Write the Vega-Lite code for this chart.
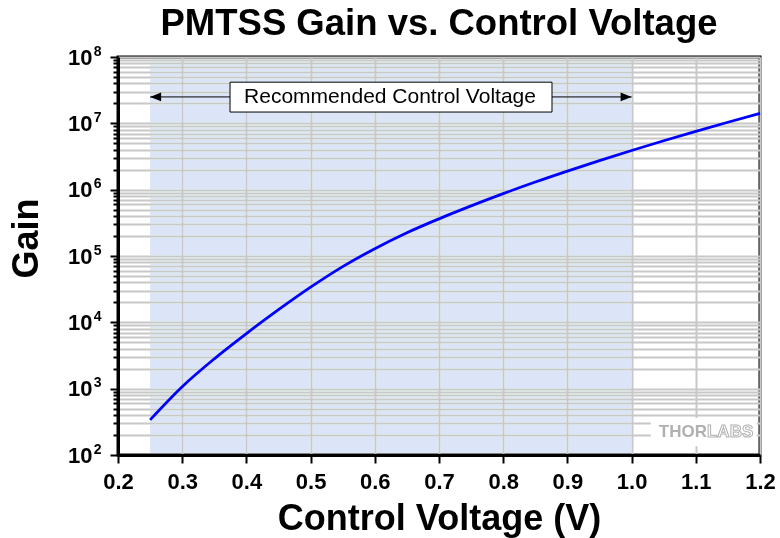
{
  "$schema": "https://vega.github.io/schema/vega-lite/v6.json",
  "autosize": {"type": "none"},
  "padding": {"left": 118, "top": 57, "right": 20, "bottom": 83},
  "width": 642,
  "height": 398,
  "title": {
    "text": "PMTSS Gain vs. Control Voltage",
    "font": "Liberation Sans",
    "fontSize": 36.5,
    "fontWeight": "bold",
    "color": "black",
    "anchor": "middle",
    "frame": "group",
    "baseline": "alphabetic",
    "offset": 11,
    "dy": 38
  },
  "datasets": {
    "gain": [
      {"Voltage": 0.25, "Gain": 339},
      {"Voltage": 0.3, "Gain": 1072},
      {"Voltage": 0.35, "Gain": 2818},
      {"Voltage": 0.4, "Gain": 6761},
      {"Voltage": 0.45, "Gain": 15490},
      {"Voltage": 0.5, "Gain": 33880},
      {"Voltage": 0.55, "Gain": 69180},
      {"Voltage": 0.6, "Gain": 128800},
      {"Voltage": 0.65, "Gain": 223900},
      {"Voltage": 0.7, "Gain": 363100},
      {"Voltage": 0.75, "Gain": 568900},
      {"Voltage": 0.8, "Gain": 871000},
      {"Voltage": 0.85, "Gain": 1303000},
      {"Voltage": 0.9, "Gain": 1905000},
      {"Voltage": 0.95, "Gain": 2742000},
      {"Voltage": 1.0, "Gain": 3890000},
      {"Voltage": 1.05, "Gain": 5458000},
      {"Voltage": 1.1, "Gain": 7568000},
      {"Voltage": 1.15, "Gain": 10380000},
      {"Voltage": 1.2, "Gain": 14090000}
    ],
    "band": [{"from": 0.25, "to": 1.0, "low": 100, "high": 100000000}],
    "note": [
      {"from": 0.25, "to": 1.0, "left": 0.3745, "right": 0.876, "mid": 0.6237,
       "level": 25000000, "bottom": 14800000, "top": 41700000,
       "label": "Recommended Control Voltage"}
    ],
    "arrows": [
      {"Voltage": 0.25, "Gain": 25000000, "dir": "left"},
      {"Voltage": 1.0, "Gain": 25000000, "dir": "right"}
    ],
    "logoBox": [{"from": 1.03, "to": 1.195, "low": 135, "high": 360}],
    "logoA": [{"Voltage": 1.1174, "Gain": 222, "t": "THOR"}],
    "logoB": [{"Voltage": 1.1174, "Gain": 222, "t": "LABS"}]
  },
  "resolve": {"axis": {"y": "independent"}},
  "layer": [
    {
      "data": {"name": "band"},
      "mark": {"type": "rect", "color": "#dce5f7", "blend": "darken"},
      "encoding": {
        "x": {
          "field": "from",
          "type": "quantitative",
          "scale": {"domain": [0.2, 1.2], "nice": false, "zero": false},
          "axis": {
            "title": "Control Voltage (V)",
            "values": [0.2, 0.25, 0.3, 0.35, 0.4, 0.45, 0.5, 0.55, 0.6, 0.65, 0.7, 0.75, 0.8, 0.85, 0.9, 0.95, 1.0, 1.05, 1.1, 1.15, 1.2],
            "labelExpr": "abs(datum.value*10 - round(datum.value*10)) < 0.001 ? format(datum.value, '.1f') : ''",
            "labelOverlap": false,
            "labelFlush": false,
            "labelPadding": 8,
            "tickSize": {"condition": {"test": "abs(datum.value*10 - round(datum.value*10)) < 0.001", "value": 8}, "value": 4},
            "titleY": 74,
            "titleBaseline": "alphabetic"
          }
        },
        "x2": {"field": "to"},
        "y": {
          "field": "low",
          "type": "quantitative",
          "scale": {"type": "log", "domain": [100, 100000000], "nice": false},
          "axis": {
            "orient": "left",
            "title": "Gain",
            "values": [100, 200, 300, 400, 500, 600, 700, 800, 900,
                       1000, 2000, 3000, 4000, 5000, 6000, 7000, 8000, 9000,
                       10000, 20000, 30000, 40000, 50000, 60000, 70000, 80000, 90000,
                       100000, 200000, 300000, 400000, 500000, 600000, 700000, 800000, 900000,
                       1000000, 2000000, 3000000, 4000000, 5000000, 6000000, 7000000, 8000000, 9000000,
                       10000000, 20000000, 30000000, 40000000, 50000000, 60000000, 70000000, 80000000, 90000000,
                       100000000],
            "labelExpr": "abs(log(datum.value)/LN10 - round(log(datum.value)/LN10)) < 0.001 ? '10' : ''",
            "labelOverlap": false,
            "labelFlush": false,
            "labelPadding": 18,
            "tickSize": {"condition": {"test": "abs(log(datum.value)/LN10 - round(log(datum.value)/LN10)) < 0.001", "value": 8}, "value": 5},
            "titleX": -81,
            "titleY": 181,
            "titleBaseline": "alphabetic"
          }
        },
        "y2": {"field": "high"}
      }
    },
    {
      "data": {"name": "note"},
      "mark": {"type": "rule", "color": "black", "strokeWidth": 1},
      "encoding": {
        "x": {"field": "from", "type": "quantitative"},
        "x2": {"field": "to"},
        "y": {"field": "level", "type": "quantitative", "axis": null}
      }
    },
    {
      "data": {"name": "arrows"},
      "mark": {"type": "point", "filled": true, "color": "black", "opacity": 1, "size": 484},
      "encoding": {
        "x": {"field": "Voltage", "type": "quantitative"},
        "y": {"field": "Gain", "type": "quantitative", "axis": null},
        "shape": {
          "field": "dir",
          "type": "nominal",
          "scale": {"domain": ["left", "right"], "range": ["M0,0L1,-0.4L1,0.4Z", "M0,0L-1,-0.4L-1,0.4Z"]},
          "legend": null
        }
      }
    },
    {
      "data": {"name": "note"},
      "mark": {"type": "rect", "fill": "white", "stroke": "black", "strokeWidth": 1},
      "encoding": {
        "x": {"field": "left", "type": "quantitative"},
        "x2": {"field": "right"},
        "y": {"field": "bottom", "type": "quantitative", "axis": null},
        "y2": {"field": "top"}
      }
    },
    {
      "data": {"name": "note"},
      "mark": {"type": "text", "font": "Liberation Sans", "fontSize": 21, "color": "black", "baseline": "middle", "align": "center"},
      "encoding": {
        "x": {"field": "mid", "type": "quantitative"},
        "y": {"field": "level", "type": "quantitative", "axis": null},
        "text": {"field": "label"}
      }
    },
    {
      "data": {"name": "logoBox"},
      "mark": {"type": "rect", "fill": "white"},
      "encoding": {
        "x": {"field": "from", "type": "quantitative"},
        "x2": {"field": "to"},
        "y": {
          "field": "low",
          "type": "quantitative",
          "axis": {
            "orient": "left",
            "title": null,
            "values": [100, 1000, 10000, 100000, 1000000, 10000000, 100000000],
            "labelExpr": "'' + round(log(datum.value)/LN10)",
            "labelFontSize": 14,
            "labelAlign": "right",
            "labelBaseline": "middle",
            "labelOffset": -6,
            "labelPadding": 17,
            "labelOverlap": false,
            "labelFlush": false,
            "grid": false,
            "ticks": false,
            "domain": false
          }
        },
        "y2": {"field": "high"}
      }
    },
    {
      "data": {"name": "logoA"},
      "mark": {"type": "text", "font": "Liberation Sans", "fontSize": 17, "fontWeight": "bold", "color": "#b0b0b0", "align": "right", "baseline": "middle"},
      "encoding": {
        "x": {"field": "Voltage", "type": "quantitative"},
        "y": {"field": "Gain", "type": "quantitative", "axis": null},
        "text": {"field": "t"}
      }
    },
    {
      "data": {"name": "logoB"},
      "mark": {"type": "text", "font": "Liberation Sans", "fontSize": 17, "fontWeight": "bold", "fill": "white", "stroke": "#b0b0b0", "strokeWidth": 1, "align": "left", "baseline": "middle"},
      "encoding": {
        "x": {"field": "Voltage", "type": "quantitative"},
        "y": {"field": "Gain", "type": "quantitative", "axis": null},
        "text": {"field": "t"}
      }
    },
    {
      "data": {"name": "gain"},
      "mark": {"type": "line", "color": "#0000ff", "strokeWidth": 2.8, "interpolate": "monotone"},
      "encoding": {
        "x": {"field": "Voltage", "type": "quantitative"},
        "y": {"field": "Gain", "type": "quantitative", "axis": null}
      }
    }
  ],
  "config": {
    "view": {"stroke": "black", "strokeWidth": 3},
    "axis": {
      "domainColor": "black",
      "domainWidth": 3,
      "tickColor": "black",
      "tickWidth": 2,
      "gridColor": "#c8c8c8",
      "gridWidth": 2,
      "labelFont": "Liberation Sans",
      "labelFontSize": 22,
      "labelFontWeight": "bold",
      "labelColor": "black",
      "titleFont": "Liberation Sans",
      "titleFontSize": 36,
      "titleFontWeight": "bold",
      "titleColor": "black"
    }
  }
}
